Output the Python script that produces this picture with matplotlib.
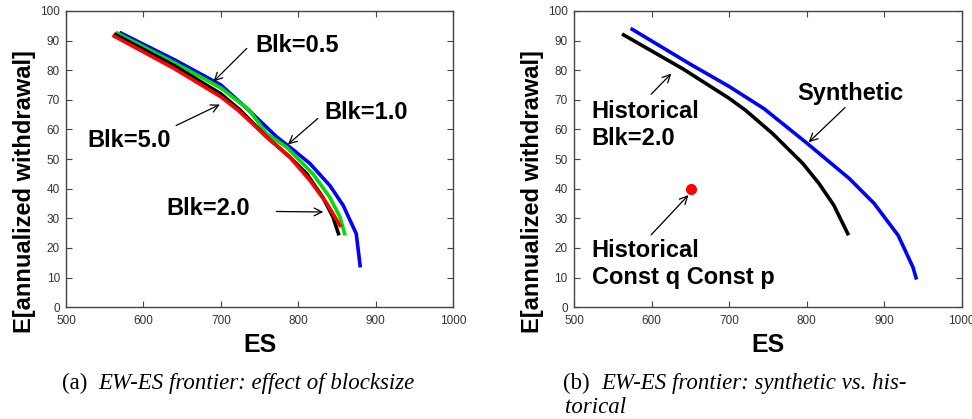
import matplotlib.pyplot as plt

# panel (a): EW-ES frontier for several block sizes
es_blue = [571, 640, 700, 736, 772, 794, 815, 841, 858, 875, 880]
ew_blue = [92.5, 83.5, 75, 66.5, 57.5, 53, 48.5, 41, 34.4, 24.8, 14]
es_green = [566, 640, 700, 736, 759, 785, 819, 841, 854, 860]
ew_green = [92.5, 82.5, 74, 66.7, 58.6, 54, 45, 37, 30.4, 24.8]
es_black = [564, 640, 700, 725, 759, 789, 811, 832, 845, 852]
ew_black = [92, 81.5, 72, 66.5, 57.5, 50.7, 45, 37, 30.4, 24.8]
es_red = [562, 640, 700, 723, 759, 789, 815, 837, 854]
ew_red = [91.5, 80.5, 71, 66.3, 57.5, 50.7, 42.8, 35, 27.6]

# panel (b): synthetic vs historical
es_syn = [575, 650, 700, 745, 801, 855, 887, 918, 937, 941]
ew_syn = [93.8, 82, 74.5, 67, 55.2, 43.4, 35, 24.2, 13.5, 9.9]
es_hist = [564, 640, 700, 721, 756, 795, 816, 835, 853]
ew_hist = [91.9, 80.5, 70.5, 66.5, 58.6, 48.5, 41.7, 34.4, 24.8]
const_point = (651, 40)

plt.rcParams['font.family'] = ['Liberation Sans', 'DejaVu Sans']

fig = plt.figure(figsize=(9.72, 4.19), dpi=100)
ax1 = fig.add_axes([0.068, 0.267, 0.398, 0.707])
ax2 = fig.add_axes([0.5905, 0.267, 0.399, 0.707])

ax1.plot(es_blue, ew_blue, color='#0000ff', lw=2.6)
ax1.plot(es_green, ew_green, color='#00e000', lw=2.6)
ax1.plot(es_black, ew_black, color='black', lw=2.6)
ax1.plot(es_red, ew_red, color='#ff0000', lw=2.6)

ax2.plot(es_syn, ew_syn, color='#0000ff', lw=2.6)
ax2.plot(es_hist, ew_hist, color='black', lw=2.6)
ax2.plot(*const_point, 'o', color='red', ms=7)

for ax in (ax1, ax2):
    ax.set_xlim(500, 1000)
    ax.set_ylim(0, 100)
    ax.set_xticks(range(500, 1001, 100))
    ax.set_yticks(range(0, 101, 10))
    ax.tick_params(direction='in', top=True, right=True, labelsize=8.5,
                   labelcolor='#333333', color='#444444', length=4)
    ax.tick_params(axis='x', pad=6)
    ax.tick_params(axis='y', pad=4.5)
    for s in ax.spines.values():
        s.set_color('#444444')
        s.set_linewidth(1.0)
    ax.set_xlabel('ES', fontsize=18, fontweight='bold', labelpad=4)
    ax.set_ylabel('E[annualized withdrawal]', fontsize=17, fontweight='bold')
    ax.yaxis.set_label_coords(-0.078, 0.39)

arrow = dict(arrowstyle='->', color='black', lw=0.9, mutation_scale=14)
tkw = dict(fontsize=17, fontweight='bold')

ax1.annotate('', xy=(688, 75.5), xytext=(736, 88), arrowprops=arrow)
ax1.text(745, 88.2, 'Blk=0.5', va='center', **tkw)
ax1.annotate('', xy=(784, 54.3), xytext=(828, 64.3), arrowprops=arrow)
ax1.text(834, 65.6, 'Blk=1.0', va='center', **tkw)
ax1.annotate('', xy=(702, 68.8), xytext=(639, 60.9), arrowprops=arrow)
ax1.text(528, 56.4, 'Blk=5.0', va='center', **tkw)
ax1.annotate('', xy=(836, 32.1), xytext=(768, 32.3), arrowprops=arrow)
ax1.text(630, 33.3, 'Blk=2.0', va='center', **tkw)

ax2.annotate('', xy=(628, 79.5), xytext=(597, 71.2), arrowprops=arrow)
ax2.text(523, 61.5, 'Historical\nBlk=2.0', va='center', linespacing=1.25, **tkw)
ax2.annotate('', xy=(800, 55), xytext=(852, 68), arrowprops=arrow)
ax2.text(788, 72, 'Synthetic', va='center', **tkw)
ax2.annotate('', xy=(650, 38.5), xytext=(597, 23.7), arrowprops=arrow)
ax2.text(523, 14.5, 'Historical\nConst q Const p', va='center', linespacing=1.25, **tkw)

cap = dict(fontsize=16.5, family=['Liberation Serif', 'DejaVu Serif'], va='baseline')
fig.text(62 / 972, 0.072, '(a)', **cap)
fig.text(98 / 972, 0.072, 'EW-ES frontier: effect of blocksize', style='italic', **cap)
fig.text(563 / 972, 0.072, '(b)', **cap)
fig.text(601 / 972, 0.072, 'EW-ES frontier: synthetic vs. his-', style='italic', **cap)
fig.text(565 / 972, 0.014, 'torical', style='italic', **cap)

fig.savefig('out.png', dpi=100)
